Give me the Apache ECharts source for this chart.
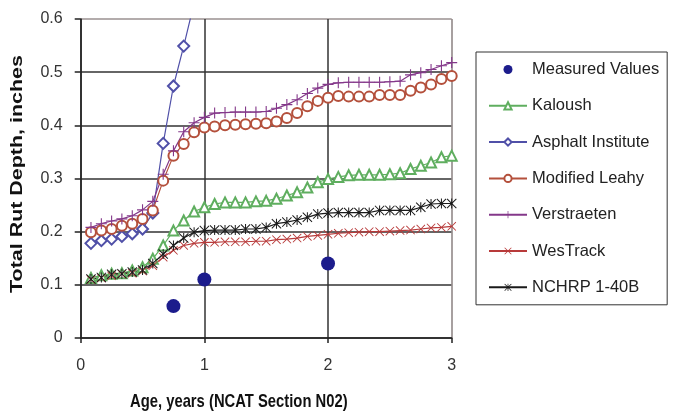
<!DOCTYPE html>
<html>
<head>
<meta charset="utf-8">
<script src="https://cdn.jsdelivr.net/npm/echarts@6/dist/echarts.min.js"></script>
<style>
html,body{margin:0;padding:0;background:#fff;}
#chart{width:673px;height:416px;}
</style>
</head>
<body>
<div id="chart"></div>
<script>
// ---- data ----
var ages = [0.083,0.167,0.25,0.333,0.417,0.5,0.583,0.667,0.75,0.833,0.917,1,
            1.083,1.167,1.25,1.333,1.417,1.5,1.583,1.667,1.75,1.833,1.917,2,
            2.083,2.167,2.25,2.333,2.417,2.5,2.583,2.667,2.75,2.833,2.917,3];
var measuredAges = [0.75, 1, 2];
var measuredValues = [0.06, 0.11, 0.14];
var kaloush = [0.113,0.118,0.121,0.122,0.127,0.133,0.149,0.174,0.202,0.221,0.238,0.246,
               0.252,0.255,0.255,0.255,0.257,0.258,0.262,0.268,0.274,0.283,0.293,0.299,
               0.303,0.306,0.307,0.307,0.307,0.308,0.31,0.318,0.324,0.33,0.34,0.343];
var asphaltInstitute = [0.178,0.183,0.186,0.191,0.196,0.205,0.235,0.366,0.474,0.549,0.63];
var modifiedLeahy = [0.199,0.202,0.205,0.211,0.215,0.224,0.24,0.296,0.343,0.365,0.387,0.396,
                     0.398,0.4,0.401,0.402,0.403,0.404,0.407,0.414,0.423,0.436,0.446,0.452,
                     0.455,0.454,0.454,0.454,0.457,0.457,0.457,0.465,0.471,0.477,0.487,0.493];
var verstraeten = [0.208,0.215,0.22,0.224,0.23,0.241,0.257,0.308,0.352,0.388,0.405,0.415,
                   0.423,0.424,0.425,0.425,0.425,0.426,0.432,0.439,0.448,0.46,0.47,0.477,
                   0.48,0.481,0.481,0.481,0.481,0.482,0.483,0.495,0.499,0.505,0.512,0.518];
var wesTrack = [0.11,0.113,0.117,0.12,0.122,0.126,0.136,0.152,0.165,0.174,0.178,0.18,
                0.18,0.181,0.181,0.181,0.182,0.182,0.185,0.186,0.188,0.191,0.193,0.195,
                0.197,0.198,0.199,0.2,0.2,0.201,0.202,0.203,0.205,0.207,0.208,0.21];
var nchrp = [0.111,0.114,0.12,0.121,0.124,0.128,0.14,0.158,0.174,0.188,0.199,0.202,
             0.203,0.203,0.203,0.205,0.205,0.208,0.215,0.218,0.222,0.227,0.233,0.235,
             0.236,0.236,0.236,0.236,0.24,0.24,0.24,0.24,0.246,0.252,0.253,0.253];
var xTicks = [0, 1, 2, 3];
var seriesNames = ['Measured Values','Kaloush','Asphalt Institute','Modified Leahy','Verstraeten','WesTrack','NCHRP 1-40B'];

function pairs(xs, ys){ return ys.map(function(v,i){ return [xs[i], v]; }); }

var PLUS = 'path://M4.5,0H5.5V4.5H10V5.5H5.5V10H4.5V5.5H0V4.5H4.5Z';
var CROSS = 'path://M0,0.7L0.7,0L5,4.3L9.3,0L10,0.7L5.7,5L10,9.3L9.3,10L5,5.7L0.7,10L0,9.3L4.3,5Z';
var STAR = 'path://M0,0.7L0.7,0L5,4.3L9.3,0L10,0.7L5.7,5L10,9.3L9.3,10L5,5.7L0.7,10L0,9.3L4.3,5Z M4.5,0H5.5V10H4.5Z';

var FONT = '"Liberation Sans", Arial, sans-serif';

function lineSeries(name, data, color, symbol, size, hollow){
  return {
    name: name, type: 'line', data: data, clip: true,
    symbol: symbol, symbolSize: size, showAllSymbol: true,
    lineStyle: {color: color, width: 1.2},
    itemStyle: hollow ? {color: color, borderColor: color, borderWidth: 1.1, opacity: 1}
                      : {color: color, borderWidth: 0, opacity: 1},
    emphasis: {disabled: true},
    z: 3
  };
}

var chart = echarts.init(document.getElementById('chart'), null, {renderer: 'canvas'});
chart.setOption({
  animation: false,
  backgroundColor: '#fff',
  textStyle: {fontFamily: FONT},
  grid: {left: 80.7, right: 221.3, top: 19, bottom: 78, show: false},
  legend: {
    orient: 'vertical', left: 476, top: 52,
    padding: [9, 8, 9, 12],
    borderColor: '#333', borderWidth: 1,
    itemWidth: 38, itemHeight: 9, itemGap: 19.3,
    textStyle: {fontFamily: FONT, fontSize: 16.5, color: '#222'},
    data: seriesNames
  },
  graphic: [{
    type: 'text', x: 130, y: 393, scaleX: 1.0, scaleY: 1.2,
    style: {text: 'Age, years (NCAT Section N02)', font: 'bold 14.8px ' + FONT, fill: '#111',
            align: 'left', verticalAlign: 'top'}
  }, {
    type: 'text', x: 9, y: 174, rotation: Math.PI / 2, scaleX: 1.3, scaleY: 1.0,
    style: {text: 'Total Rut Depth, inches', font: 'bold 16.5px ' + FONT, fill: '#111',
            align: 'center', verticalAlign: 'top'}
  }],
  xAxis: {
    type: 'value', min: 0, max: 3, interval: 1,
    axisLine: {show: true, onZero: false, lineStyle: {color: '#222', width: 1.5}},
    axisTick: {show: true, length: 5, lineStyle: {color: '#222', width: 1.5}},
    axisLabel: {fontSize: 16, color: '#333', margin: 20, fontFamily: FONT},
    splitLine: {show: true, lineStyle: {color: ['#333','#333','#333','#8a8080'], width: 1.5}}
  },
  yAxis: {
    type: 'value', min: 0, max: 0.6, interval: 0.1,
    axisLine: {show: true, lineStyle: {color: '#222', width: 1.5}},
    axisTick: {show: true, length: 6, lineStyle: {color: '#222', width: 1.5}},
    axisLabel: {fontSize: 16, color: '#333', margin: 18, fontFamily: FONT},
    splitLine: {show: true, lineStyle: {color: ['#333','#333','#333','#333','#333','#333','#9a9090'], width: 1.5}}
  },
  series: [
    {
      name: 'Measured Values', type: 'scatter', data: pairs(measuredAges, measuredValues),
      symbol: 'circle', symbolSize: 14, itemStyle: {color: '#1c1c8c', opacity: 1}, z: 5,
      emphasis: {disabled: true}
    },
    lineSeries('Kaloush', pairs(ages, kaloush), '#5fae5f', 'emptyTriangle', 10, true),
    lineSeries('Asphalt Institute', pairs(ages, asphaltInstitute), '#5050a8', 'emptyDiamond', 11, true),
    lineSeries('Modified Leahy', pairs(ages, modifiedLeahy), '#b4503c', 'emptyCircle', 10, true),
    lineSeries('Verstraeten', pairs(ages, verstraeten), '#84388a', PLUS, 11, false),
    lineSeries('WesTrack', pairs(ages, wesTrack), '#b83a3a', CROSS, 9, false),
    lineSeries('NCHRP 1-40B', pairs(ages, nchrp), '#1a1a1a', STAR, 10, false)
  ]
});
</script>
</body>
</html>
